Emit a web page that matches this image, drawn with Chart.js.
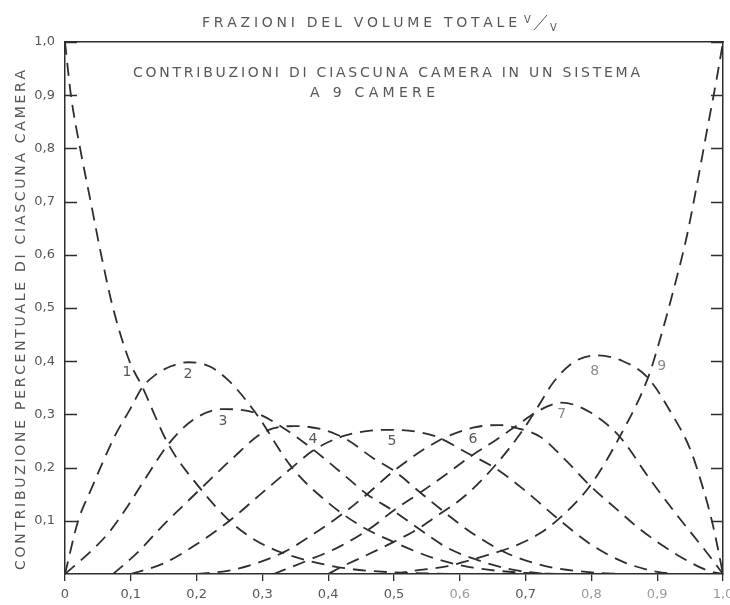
<!DOCTYPE html>
<html>
<head>
<meta charset="utf-8">
<title>Contribuzioni di ciascuna camera</title>
<script src="https://cdn.jsdelivr.net/npm/chart.js"></script>
<style>
  body { margin: 0; background: #fff; }
  #wrap { width: 730px; height: 605px; }
</style>
</head>
<body>
<div id="wrap"><canvas id="myCanvas" width="730" height="605"></canvas></div>
<script>
// share of each chamber (1..9) against the volume fraction v/V
var camera1 = [[0,1],[0.009,0.9],[0.023,0.8],[0.039,0.7],[0.055,0.6],[0.073,0.5],[0.098,0.4],[0.117,0.353],[0.157,0.244],[0.206,0.16],[0.25,0.1],[0.29,0.063],[0.33,0.04],[0.37,0.025],[0.425,0.011],[0.5,0.003],[0.6,0]];
var camera2 = [[0,0],[0.02,0.1],[0.04,0.16],[0.076,0.26],[0.099,0.31],[0.117,0.35],[0.135,0.372],[0.16,0.39],[0.187,0.398],[0.22,0.39],[0.25,0.362],[0.289,0.304],[0.345,0.2],[0.4,0.134],[0.45,0.09],[0.5,0.06],[0.56,0.03],[0.62,0.012],[0.7,0.002],[0.75,0]];
var camera3 = [[0,0],[0.043,0.047],[0.068,0.08],[0.094,0.125],[0.125,0.185],[0.157,0.244],[0.195,0.29],[0.24,0.31],[0.289,0.303],[0.33,0.276],[0.377,0.234],[0.425,0.185],[0.459,0.15],[0.5,0.118],[0.54,0.083],[0.58,0.05],[0.63,0.025],[0.68,0.008],[0.73,0]];
var camera4 = [[0.073,0],[0.11,0.04],[0.144,0.085],[0.175,0.123],[0.206,0.16],[0.25,0.212],[0.304,0.268],[0.35,0.278],[0.39,0.272],[0.428,0.253],[0.468,0.218],[0.5,0.194],[0.54,0.153],[0.58,0.113],[0.615,0.08],[0.67,0.04],[0.73,0.015],[0.8,0.003],[0.85,0]];
var camera5 = [[0.1,0],[0.15,0.02],[0.195,0.052],[0.25,0.1],[0.3,0.153],[0.345,0.2],[0.377,0.232],[0.425,0.26],[0.49,0.271],[0.56,0.26],[0.615,0.225],[0.655,0.198],[0.696,0.16],[0.75,0.103],[0.8,0.055],[0.85,0.022],[0.9,0.004],[0.93,0]];
var camera6 = [[0.2,0],[0.247,0.006],[0.29,0.02],[0.334,0.042],[0.38,0.077],[0.425,0.116],[0.459,0.15],[0.5,0.194],[0.567,0.25],[0.62,0.275],[0.66,0.28],[0.691,0.273],[0.722,0.258],[0.76,0.215],[0.798,0.166],[0.84,0.12],[0.874,0.084],[0.91,0.052],[0.95,0.022],[0.98,0.005],[1,0]];
var camera7 = [[0.317,0],[0.37,0.026],[0.418,0.052],[0.463,0.085],[0.5,0.12],[0.54,0.153],[0.58,0.188],[0.615,0.22],[0.655,0.252],[0.691,0.283],[0.717,0.305],[0.755,0.322],[0.798,0.304],[0.843,0.258],[0.889,0.178],[0.935,0.103],[0.975,0.041],[1,0]];
var camera8 = [[0.4,0],[0.418,0.012],[0.456,0.034],[0.499,0.06],[0.537,0.085],[0.558,0.103],[0.608,0.147],[0.653,0.203],[0.695,0.269],[0.719,0.315],[0.742,0.36],[0.773,0.398],[0.808,0.411],[0.848,0.4],[0.885,0.37],[0.924,0.297],[0.95,0.235],[0.97,0.16],[0.985,0.09],[1,0]];
var camera9 = [[0.5,0],[0.53,0.006],[0.582,0.015],[0.638,0.034],[0.684,0.053],[0.72,0.075],[0.75,0.103],[0.798,0.166],[0.843,0.258],[0.887,0.372],[0.904,0.44],[0.924,0.53],[0.945,0.635],[0.96,0.729],[0.976,0.836],[0.991,0.935],[1,1]];

var cameras = [camera1, camera2, camera3, camera4, camera5, camera6, camera7, camera8, camera9];
var curveNames = ['1','2','3','4','5','6','7','8','9'];
// where each curve number sits, in axis units
var labelSpots = [[0.094,0.379],[0.187,0.376],[0.24,0.287],[0.377,0.254],[0.497,0.25],[0.62,0.254],[0.755,0.3],[0.805,0.381],[0.907,0.39]];

var xTickValues = [0,0.1,0.2,0.3,0.4,0.5,0.6,0.7,0.8,0.9,1];
var xTickLabels = ['0','0,1','0,2','0,3','0,4','0,5','0,6','0,7','0,8','0,9','1,0'];
var yTickValues = [0.1,0.2,0.3,0.4,0.5,0.6,0.7,0.8,0.9,1];
var yTickLabels = ['0,1','0,2','0,3','0,4','0,5','0,6','0,7','0,8','0,9','1,0'];

var xTitle = 'FRAZIONI DEL VOLUME TOTALE';
var yTitle = 'CONTRIBUZIONE PERCENTUALE DI CIASCUNA CAMERA';
var caption = ['CONTRIBUZIONI DI CIASCUNA CAMERA IN UN SISTEMA', 'A 9 CAMERE'];

var ink = '#2e2e2e';
var textInk = '#575757';
var fadedInk = '#9a9a9a';
var fontFamily = '"DejaVu Sans", sans-serif';

Chart.defaults.font.family = fontFamily;

// lettering with the letters spread evenly between two x positions
function spacedText(ctx, str, x0, x1, y) {
  var chars = str.split('');
  var widths = chars.map(function(c) { return ctx.measureText(c).width; });
  var total = widths.reduce(function(a, b) { return a + b; }, 0);
  var gap = (x1 - x0 - total) / (chars.length - 1);
  var x = x0;
  ctx.textAlign = 'left';
  chars.forEach(function(c, i) {
    ctx.fillText(c, x, y);
    x += widths[i] + gap;
  });
}

var framePlugin = {
  id: 'frame',
  afterDraw: function(chart) {
    var ctx = chart.ctx;
    var area = chart.chartArea;
    var xs = chart.scales.x;
    var ys = chart.scales.y;
    ctx.save();

    // short tick marks pointing inwards on both side frames
    ctx.strokeStyle = ink;
    ctx.lineWidth = 1.3;
    yTickValues.forEach(function(v) {
      var py = Math.round(ys.getPixelForValue(v)) + 0.5;
      ctx.beginPath();
      ctx.moveTo(area.left, py);
      ctx.lineTo(area.left + 12, py);
      ctx.moveTo(area.right, py);
      ctx.lineTo(area.right - 12, py);
      ctx.stroke();
    });

    // curve numbers
    ctx.font = '14px ' + fontFamily;
    ctx.textAlign = 'center';
    ctx.textBaseline = 'middle';
    curveNames.forEach(function(n, i) {
      ctx.fillStyle = i >= 6 ? '#8a8a8a' : textInk;
      ctx.fillText(n, xs.getPixelForValue(labelSpots[i][0]), ys.getPixelForValue(labelSpots[i][1]));
    });

    // x title above the frame, with the v/V fraction
    ctx.fillStyle = textInk;
    ctx.textBaseline = 'alphabetic';
    ctx.font = '14px ' + fontFamily;
    spacedText(ctx, xTitle, 202, 517, 27);
    ctx.font = '10px ' + fontFamily;
    ctx.fillText('V', 524, 23);
    ctx.fillText('V', 550, 31);
    ctx.strokeStyle = textInk;
    ctx.lineWidth = 1;
    ctx.beginPath();
    ctx.moveTo(547, 15);
    ctx.lineTo(534, 30);
    ctx.stroke();

    // caption inside the frame
    ctx.font = '14px ' + fontFamily;
    spacedText(ctx, caption[0], 133, 640, 77);
    spacedText(ctx, caption[1], 310, 435, 96.5);

    // y title, reading upwards
    ctx.translate(25, 570);
    ctx.rotate(-Math.PI / 2);
    spacedText(ctx, yTitle, 0, 500, 0);

    ctx.restore();
  }
};

var datasets = cameras.map(function(c, i) {
  return {
    label: curveNames[i],
    data: c.map(function(p) { return {x: p[0], y: p[1]}; }),
    borderColor: ink,
    borderWidth: 1.8,
    borderDash: [13, 8],
    pointRadius: 0,
    fill: false,
    cubicInterpolationMode: 'monotone'
  };
});

new Chart(document.getElementById('myCanvas'), {
  type: 'line',
  data: { datasets: datasets },
  options: {
    responsive: false,
    animation: false,
    events: [],
    layout: { padding: 0 },
    plugins: {
      legend: { display: false },
      tooltip: { enabled: false },
      title: { display: false }
    },
    scales: {
      x: {
        type: 'linear', position: 'bottom', min: 0, max: 1,
        afterBuildTicks: function(s) { s.ticks = xTickValues.map(function(v) { return {value: v}; }); },
        ticks: {
          autoSkip: false, maxRotation: 0, padding: 6,
          font: { size: 13 },
          color: function(c) { return [6, 8, 9, 10].indexOf(c.index) >= 0 ? fadedInk : textInk; },
          callback: function(v, i) { return xTickLabels[i]; }
        },
        grid: { drawOnChartArea: false, drawTicks: true, tickLength: 7, color: ink, lineWidth: 1.3 },
        border: { display: true, color: ink, width: 1.5 },
        afterFit: function(s) { s.height = 31; s.paddingLeft = 0; s.paddingRight = 0; }
      },
      xTop: {
        axis: 'x', type: 'linear', position: 'top', min: 0, max: 1,
        ticks: { display: false },
        grid: { display: false, drawTicks: false },
        border: { display: true, color: ink, width: 1.5 },
        afterFit: function(s) { s.height = 42; s.paddingLeft = 0; s.paddingRight = 0; }
      },
      y: {
        type: 'linear', position: 'left', min: 0, max: 1,
        afterBuildTicks: function(s) { s.ticks = yTickValues.map(function(v) { return {value: v}; }); },
        ticks: {
          padding: 10,
          font: { size: 13 },
          color: textInk,
          callback: function(v, i) { return yTickLabels[i]; }
        },
        grid: { drawOnChartArea: false, drawTicks: false },
        border: { display: true, color: ink, width: 1.5 },
        afterFit: function(s) { s.width = 65; s.paddingTop = 0; s.paddingBottom = 0; }
      },
      yRight: {
        axis: 'y', type: 'linear', position: 'right', min: 0, max: 1,
        ticks: { display: false },
        grid: { display: false, drawTicks: false },
        border: { display: true, color: ink, width: 1.5 },
        afterFit: function(s) { s.width = 7; s.paddingTop = 0; s.paddingBottom = 0; }
      }
    }
  },
  plugins: [framePlugin]
});
</script>
</body>
</html>
